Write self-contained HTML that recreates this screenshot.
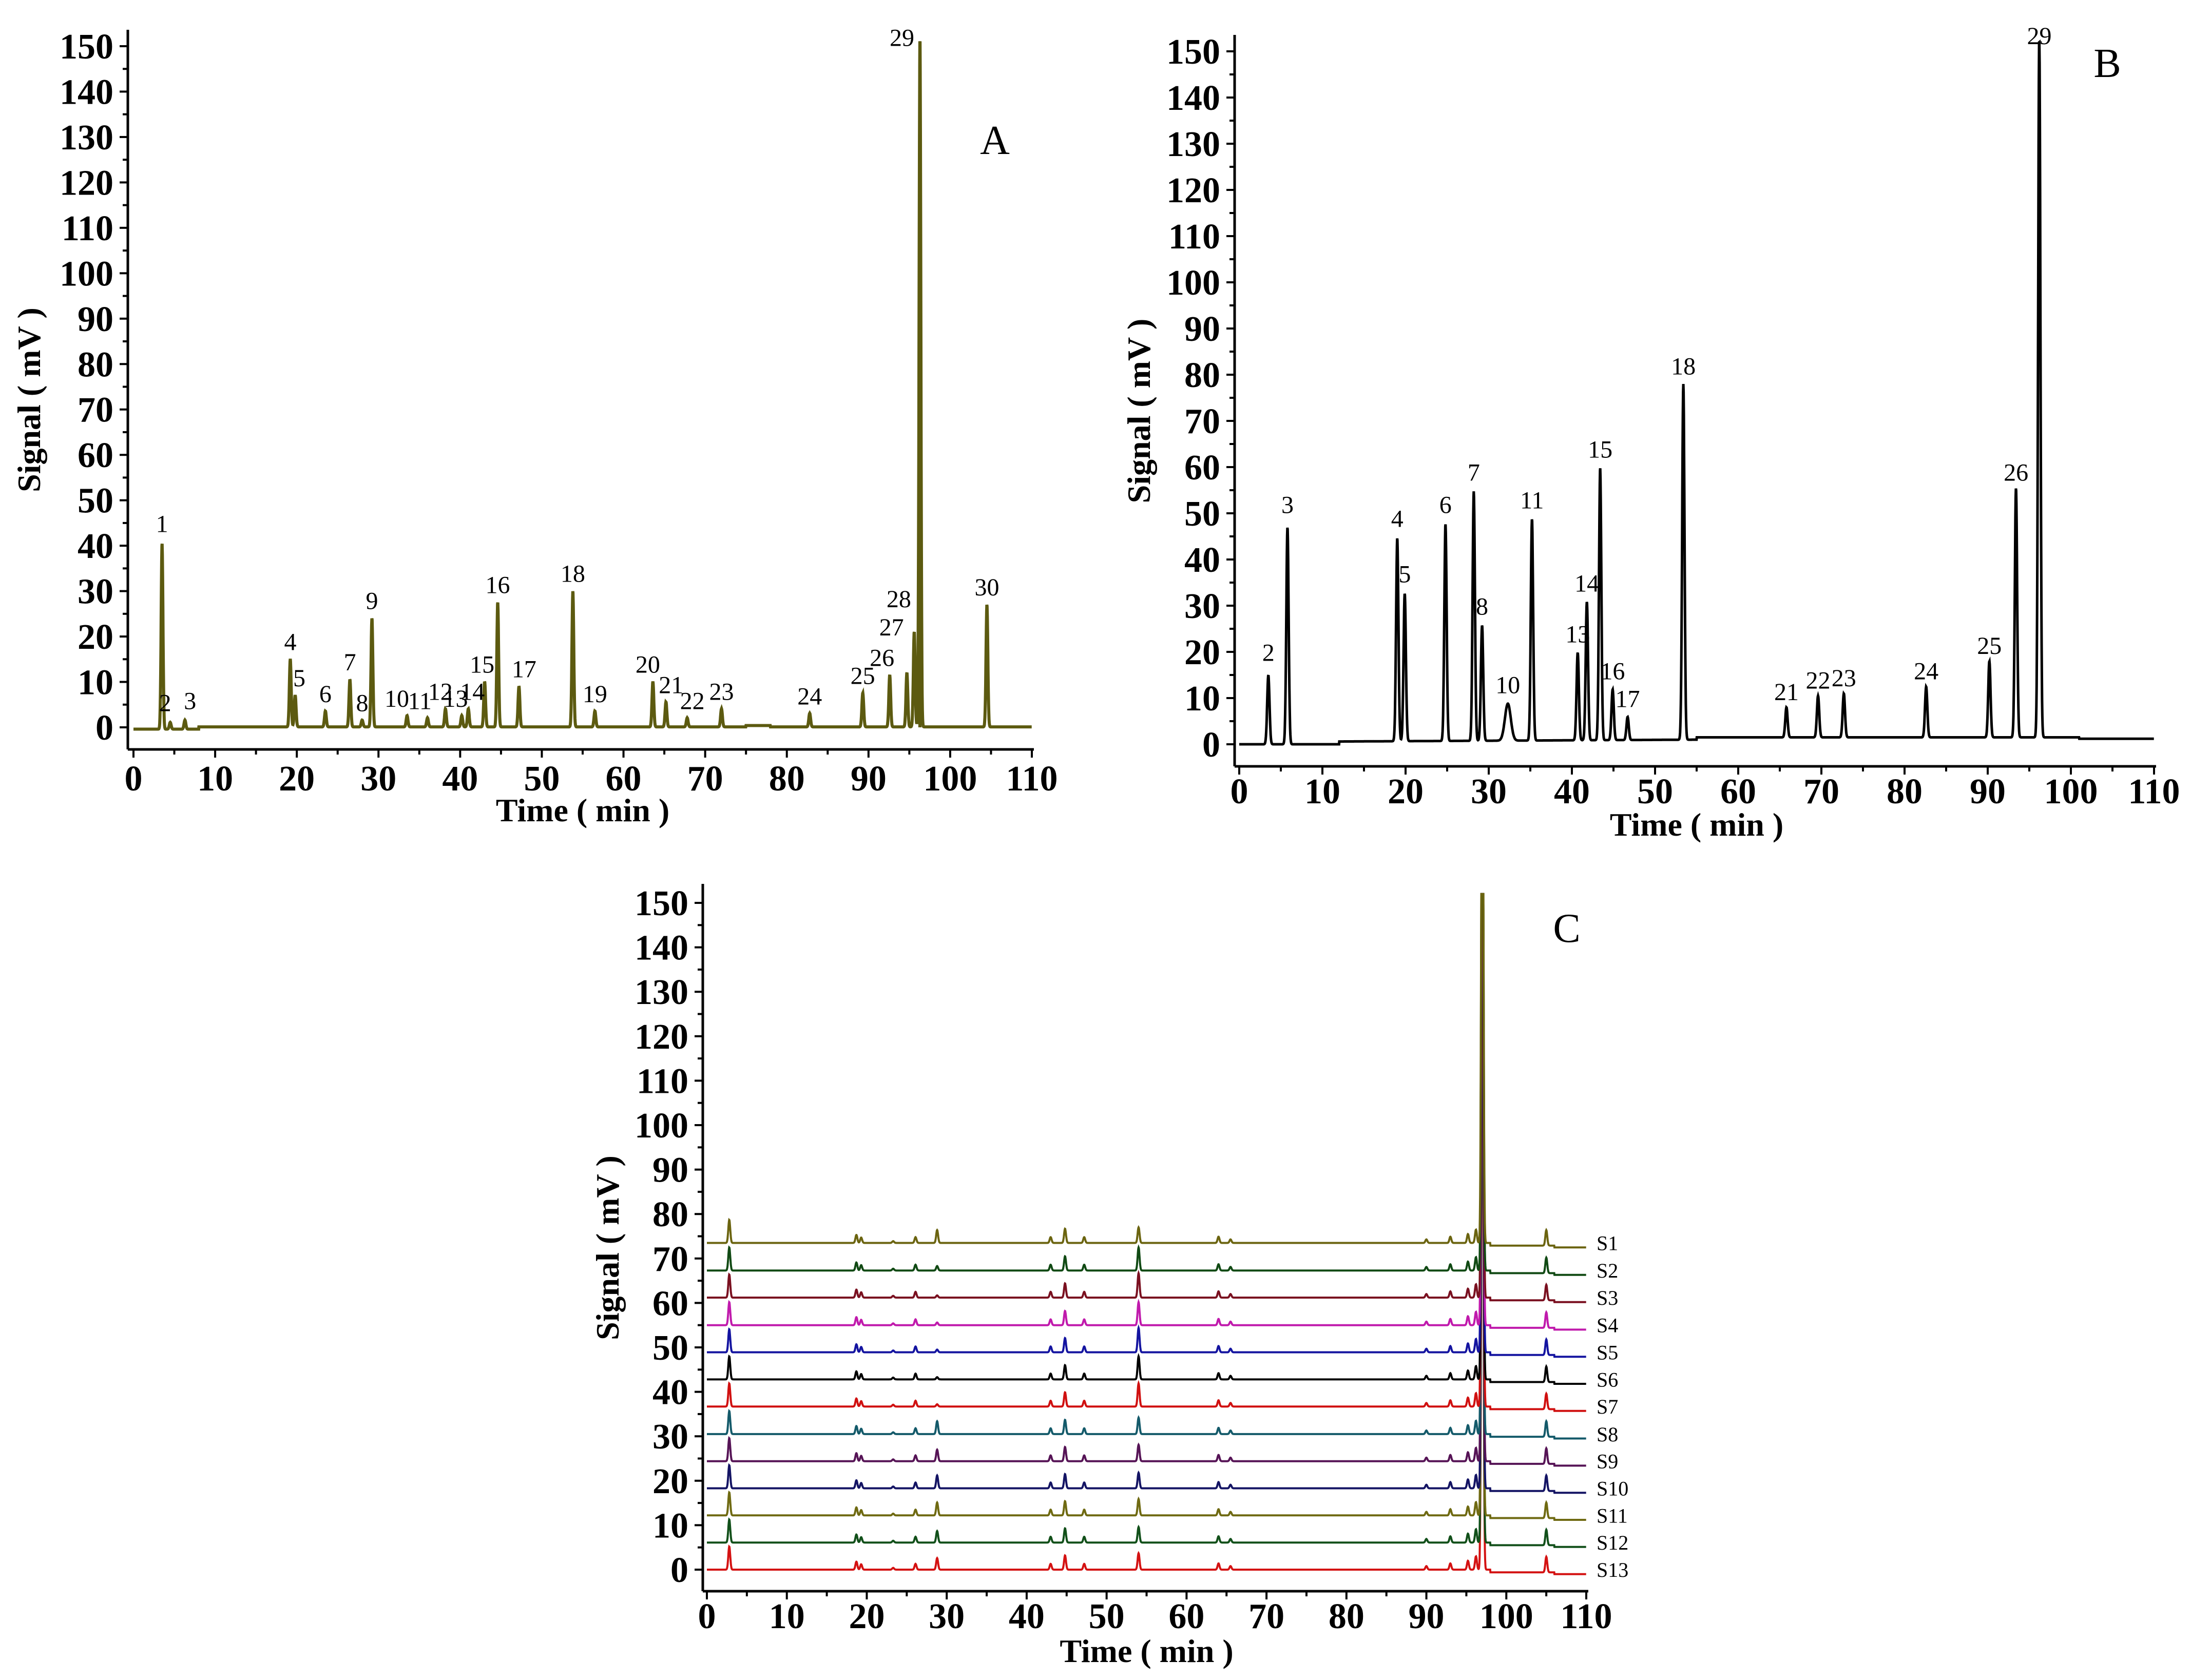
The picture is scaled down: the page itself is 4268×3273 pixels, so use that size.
<!DOCTYPE html>
<html><head><meta charset="utf-8"><style>
html,body{margin:0;padding:0;background:#fff;}
svg{display:block;}
text{font-family:"Liberation Serif",serif;}
</style></head><body>
<svg id="fig" width="4268" height="3273" viewBox="0 0 4268 3273" xmlns="http://www.w3.org/2000/svg"></svg>
<script>
// ---- Panel A data ----
const aLabels = ['1','2','3','4','5','6','7','8','9','10','11','12','13','14','15','16','17','18','19','20','21','22','23','24','25','26','27','28','29','30'];
const aTimes = [3.5,4.5,6.3,19.2,19.8,23.5,26.5,28.0,29.2,33.5,36.0,38.2,40.2,41.0,43.0,44.6,47.2,53.8,56.5,63.6,65.2,67.8,72.0,82.8,89.3,92.6,94.7,95.6,96.3,104.5];
const aHeights = [41,1.5,2,15,7,3.5,10.5,1.5,24,2.5,2,4,2.5,4,10,27.5,9,30,3.5,10,5.5,2,4,3,7.5,11.5,12,21,151,27];
// ---- Panel B data ----
const bLabels = ['2','3','4','5','6','7','8','10','11','13','14','15','16','17','18','21','22','23','24','25','26','29'];
const bTimes = [3.5,5.8,19.0,19.9,24.8,28.2,29.2,32.3,35.2,40.7,41.8,43.4,44.9,46.7,53.4,65.8,69.6,72.7,82.6,90.2,93.4,96.2];
const bHeights = [15,47,44,32,47,54,25,8,48,19,30,59,11,5,77,6.5,9,9.5,11,16.5,54,152];
// ---- Panel C data ----
const cSamples = ['S1','S2','S3','S4','S5','S6','S7','S8','S9','S10','S11','S12','S13'];
const cOffsets = [73.5,67.3,61.2,55.0,48.9,42.8,36.7,30.5,24.4,18.3,12.2,6.1,0];
const cPeakTimes = [2.8,18.7,19.3,23.3,26.1,28.8,43.0,44.8,47.2,54.0,64.0,65.5,90.0,93.0,95.2,96.2,97.0,105.0];
const cPeakHeights = [5.2,1.8,1.2,0.4,1.3,2.8,1.3,3.2,1.3,3.5,1.4,0.8,0.8,1.4,2.0,3.0,160,3.5];
const c28Heights = [2.9,1.0,0.5,0.6,0.6,0.5,0.5,2.9,2.6,2.9,2.9,2.6,2.6];
const c54Heights = [3.5,5.2,5.5,5.2,5.5,5.2,5.2,3.7,3.7,3.5,3.7,3.5,3.7];
const cColors = ['#6b6410','#114a14','#7a1020','#c01aac','#1414a0','#000000','#d01010','#145a6a','#561456','#141464','#6f6a12','#12501a','#d41212'];

const NS='http://www.w3.org/2000/svg';
const svg=document.getElementById('fig');
function el(tag,attrs,parent){const e=document.createElementNS(NS,tag);for(const k in attrs)e.setAttribute(k,attrs[k]);(parent||svg).appendChild(e);return e;}

function makeAxes(p,g,panelName){
  const xs=v=>p.x0+(p.x1-p.x0)*v/110;
  const ys=v=>p.y0+(p.y150-p.y0)*v/150;
  const yAxis=el('line',{x1:p.ax,y1:p.top,x2:p.ax,y2:p.bot,stroke:'#000','stroke-width':5},g);
  
  
  const xAxis=el('line',{x1:p.ax,y1:p.bot,x2:xs(110)+4,y2:p.bot,stroke:'#000','stroke-width':5},g);
  
  
  for(let v=0;v<=150;v+=5){
    const y=ys(v);
    el('line',{x1:p.ax-(v%10===0?16:10),y1:y,x2:p.ax,y2:y,stroke:'#000','stroke-width':4},g);
    if(v%10===0){
      const t=el('text',{x:p.ax-28,y:y+24,'font-size':70,'font-weight':'bold','text-anchor':'end'},g);
      t.textContent=v;
      
      
    }
  }
  for(let v=0;v<=110;v+=5){
    const x=xs(v);
    el('line',{x1:x,y1:p.bot,x2:x,y2:p.bot+(v%10===0?16:10),stroke:'#000','stroke-width':4},g);
    if(v%10===0){
      const t=el('text',{x:x,y:p.tickY,'font-size':70,'font-weight':'bold','text-anchor':'middle'},g);
      t.textContent=v;
      
      
    }
  }
  const xt=el('text',{x:(xs(0)+xs(110))/2,y:p.titleY,'font-size':64,'font-weight':'bold','text-anchor':'middle'},g);
  xt.textContent='Time ( min )';
  
  
  const yt=el('text',{x:0,y:0,'font-size':64,'font-weight':'bold','text-anchor':'middle',transform:`translate(${p.ylx},${(p.top+p.bot)/2+20}) rotate(-90)`},g);
  yt.textContent='Signal ( mV )';
  
  
  const pl=el('text',{x:p.plx,y:p.ply,'font-size':80,'text-anchor':'middle'},g);
  pl.textContent=panelName;
  
  
  return {xs,ys};
}

function tracePath(xs,ys,times,heights,base,sig){
  let d='';
  for(let t=0;t<=110;t+=0.03){
    let v=base(t);
    for(let i=0;i<times.length;i++){const s=sig(i);const z=(t-times[i])/s;if(Math.abs(z)<5)v+=heights[i]*Math.exp(-0.5*z*z);}
    d+=(d?'L':'M')+xs(t).toFixed(1)+' '+ys(Math.min(v,152)).toFixed(1);
  }
  return d;
}

// Panel A
(function(){
  const g=el('g',{});
  
  
  const p={x0:260,x1:2010,y0:1417,y150:90,ax:249,top:58,bot:1460,tickY:1540,titleY:1600,ylx:78,plx:1938,ply:300};
  const {xs,ys}=makeAxes(p,g,'A');
  const path=el('path',{d:tracePath(xs,ys,aTimes,aHeights,t=>(t<8?-0.4:0.1)+(t>75&&t<78?0.3:0),i=>0.11),fill:'none',stroke:'#5c5a10','stroke-width':6},g);
  
  
  const bar=el('rect',{x:xs(96.1),y:ys(151),width:xs(96.5)-xs(96.1),height:ys(0)-ys(151),fill:'#5c5a10'},g);
  
  
  const dx=[0,-10,10,0,8,0,0,0,0,-20,-15,-10,-12,8,-5,0,10,0,0,-10,10,10,0,0,0,-15,-30,-30,-35,0];
  const dy=[0,0,0,0,0,0,0,0,0,0,0,0,0,0,0,0,0,0,0,0,0,0,0,0,0,0,-55,-30,0,0];
  aTimes.forEach((t,i)=>{
    const lab=el('text',{x:xs(t)+dx[i],y:ys(Math.min(aHeights[i],148))-18+dy[i],'font-size':48,'text-anchor':'middle'},g);
    lab.textContent=aLabels[i];
    
    
  });
})();

// Panel B
(function(){
  const g=el('g',{});
  
  
  const p={x0:2414,x1:4196,y0:1450,y150:100,ax:2405,top:68,bot:1493,tickY:1565,titleY:1628,ylx:2240,plx:4105,ply:150};
  const {xs,ys}=makeAxes(p,g,'B');
  const path=el('path',{d:tracePath(xs,ys,bTimes,bHeights,t=>t<12?0:(t<55?0.6+0.4*(t-12)/43:(t<101?1.5:1.2)),i=>i===7?0.35:0.14),fill:'none',stroke:'#000','stroke-width':5},g);
  
  
  bTimes.forEach((t,i)=>{
    const lab=el('text',{x:xs(t),y:ys(Math.min(bHeights[i]+1.5,150))-14,'font-size':48,'text-anchor':'middle'},g);
    lab.textContent=bLabels[i];
    
    
  });
})();

// Panel C
(function(){
  const g=el('g',{});
  
  
  const p={x0:1377,x1:3090,y0:3058,y150:1759,ax:1369,top:1722,bot:3100,tickY:3172,titleY:3238,ylx:1205,plx:3052,ply:1835};
  const {xs,ys}=makeAxes(p,g,'C');
  for(let s=cSamples.length-1;s>=0;s--){
    const h=cPeakHeights.slice();
    h[5]=c28Heights[s];
    h[9]=c54Heights[s];
    const off=cOffsets[s];
    const path=el('path',{d:tracePath(xs,ys,cPeakTimes,h,t=>off+(t>98?-0.6:0)+(t>106?-0.4:0),i=>0.12),fill:'none',stroke:cColors[s],'stroke-width':4},g);
    
    
    const lab=el('text',{x:3110,y:ys(off)+14,'font-size':40},g);
    lab.textContent=cSamples[s];
    
    
  }
})();
</script>
</body></html>
